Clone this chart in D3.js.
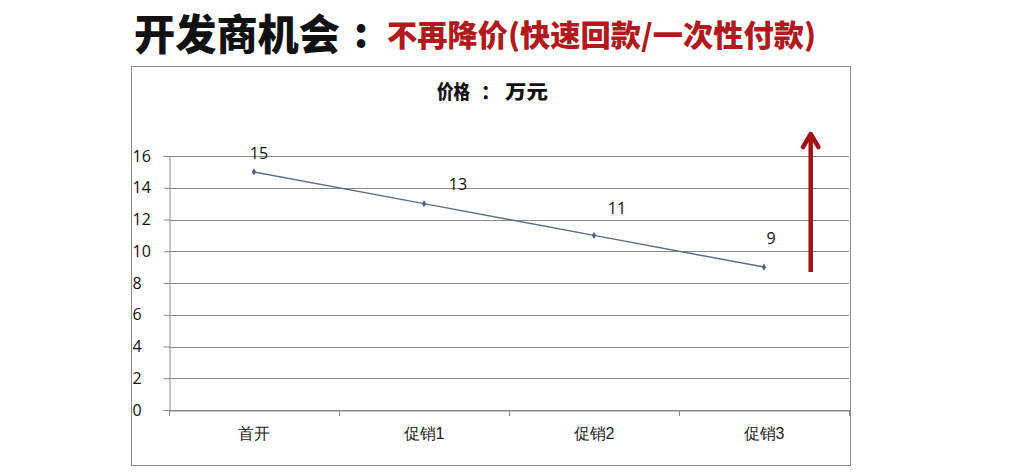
<!DOCTYPE html>
<html><head><meta charset="utf-8">
<script src="https://cdn.jsdelivr.net/npm/d3@7"></script>
<style>
body{margin:0;background:#fff;}
svg{display:block;font-family:"Noto Sans CJK SC","Noto Sans",sans-serif;}
</style></head>
<body>
<svg id="chart" width="1016" height="474"></svg>
<script>
const categories = ["首开", "促销1", "促销2", "促销3"];
const values = [15, 13, 11, 9];
const yTicks = [0, 2, 4, 6, 8, 10, 12, 14, 16];
const titleParts = ["价格", "：", "万元"];
const headBlack = "开发商机会";
const headColon = ":";
const headRed = "不再降价(快速回款/一次性付款)";

(function () {
const svg = d3.select("#chart");
// heading
svg.append("text").attr("x", 134).attr("y", 50)
  .attr("font-size", 42).attr("font-weight", 900).attr("fill", "#111")
  .attr("textLength", 206).attr("lengthAdjust", "spacingAndGlyphs")
  .text(headBlack);
svg.append("text").attr("x", 361).attr("y", 47).attr("text-anchor", "middle")
  .attr("font-size", 40).attr("font-weight", 900).attr("fill", "#111")
  .text(headColon);
svg.append("text").attr("x", 387).attr("y", 46)
  .attr("font-size", 30).attr("font-weight", 900).attr("fill", "#b01a1c")
  .attr("textLength", 429).attr("lengthAdjust", "spacingAndGlyphs")
  .text(headRed);

// frame
svg.append("rect").attr("x", 131.5).attr("y", 66.5).attr("width", 719).attr("height", 399)
  .attr("fill", "#fff").attr("stroke", "#8a8a8a").attr("stroke-width", 1);

// chart title
const tg = svg.append("g").attr("font-size", 19).attr("font-weight", 900).attr("fill", "#111");
tg.append("text").attr("x", 437).attr("y", 99).attr("textLength", 33).attr("lengthAdjust", "spacingAndGlyphs").text(titleParts[0]);
tg.append("text").attr("x", 481).attr("y", 99).text(titleParts[1]);
tg.append("text").attr("x", 505).attr("y", 99).attr("textLength", 43).attr("lengthAdjust", "spacingAndGlyphs").text(titleParts[2]);

const pl = 169, pr = 849, pt = 156, pb = 410;
const x = d3.scaleBand().domain(categories).range([pl, pr]);
const y = d3.scaleLinear().domain([0, 16]).range([pb, pt]);

// gridlines
svg.append("g").selectAll("line").data(yTicks).join("line")
  .attr("x1", pl).attr("x2", pr)
  .attr("y1", d => Math.round(y(d)) + 0.5).attr("y2", d => Math.round(y(d)) + 0.5)
  .attr("stroke", "#8a8a8a").attr("stroke-width", 1);

// y axis
const yAxis = svg.append("g").attr("transform", `translate(${pl + 0.5},0)`)
  .call(d3.axisLeft(y).tickValues(yTicks).tickSize(6).tickPadding(5));
yAxis.select(".domain").attr("stroke", "#8a8a8a");
yAxis.selectAll(".tick line").attr("stroke", "#8a8a8a");
yAxis.selectAll(".tick text").attr("font-size", 16).attr("fill", "#111")
  .attr("font-family", "'Open Sans','Noto Sans',sans-serif").attr("text-anchor", "start").attr("x", -37);

// x axis
const xAxis = svg.append("g").attr("transform", `translate(0,${Math.round(pb) + 0.5})`)
  .call(d3.axisBottom(x).tickSize(0).tickPadding(17));
xAxis.select(".domain").attr("stroke", "#8a8a8a");
xAxis.selectAll(".tick text").attr("font-size", 16).attr("fill", "#222");
// category boundary ticks
const bounds = categories.map(c => x(c)).concat([pr]);
svg.append("g").selectAll("line").data(bounds).join("line")
  .attr("x1", d => Math.round(d) + 0.5).attr("x2", d => Math.round(d) + 0.5)
  .attr("y1", pb).attr("y2", pb + 6).attr("stroke", "#8a8a8a");

// line
const cx = d => x(d) + x.bandwidth() / 2;
const pts = categories.map((c, i) => [cx(c), y(values[i])]);
svg.append("path").attr("d", d3.line()(pts)).attr("fill", "none")
  .attr("stroke", "#58708c").attr("stroke-width", 1.5);
svg.append("g").selectAll("path").data(pts).join("path")
  .attr("transform", d => `translate(${d[0]},${d[1]})`)
  .attr("d", d3.symbol(d3.symbolDiamond, 16)).attr("fill", "#4f6480");

// data labels (offsets are layout, not data)
const labelDx = [5, 34, 23, 7];
const labelDy = [-13, -14, -21, -23];
svg.append("g").selectAll("text").data(pts).join("text")
  .attr("x", (d, i) => d[0] + labelDx[i]).attr("y", (d, i) => d[1] + labelDy[i])
  .attr("text-anchor", "middle").attr("font-size", 16).attr("fill", "#111")
  .attr("font-family", "'Open Sans','Noto Sans',sans-serif")
  .text((d, i) => values[i]);

// red arrow
const ag = svg.append("g").attr("stroke", "#9e1319").attr("fill", "none")
  .attr("stroke-linecap", "round").attr("stroke-linejoin", "round");
ag.append("line").attr("x1", 810.7).attr("x2", 810.7).attr("y1", 272).attr("y2", 134)
  .attr("stroke-width", 4.5).attr("stroke-linecap", "butt");
ag.append("path").attr("d", "M803,147 L810.7,134 L818.4,147").attr("stroke-width", 4.5);
})();
</script>
</body></html>
